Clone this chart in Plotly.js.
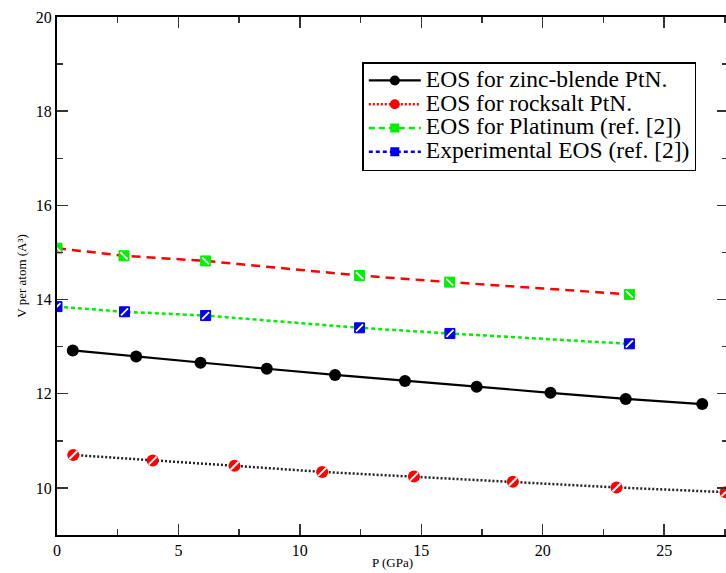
<!DOCTYPE html>
<html>
<head>
<meta charset="utf-8">
<script src="https://cdn.plot.ly/plotly-3.0.1.min.js"></script>
<style>
  html, body { margin: 0; padding: 0; background: #fff; overflow: hidden; }
  #chart { width: 728px; height: 573px; }
</style>
</head>
<body>
<div id="chart"></div>
<script>
// Equation-of-state data: pressure P (GPa) vs volume per atom (A^3)
const zbP = [0.65, 3.26, 5.91, 8.64, 11.45, 14.33, 17.28, 20.32, 23.42, 26.57];
const zbV = [12.92, 12.79, 12.66, 12.53, 12.40, 12.27, 12.15, 12.02, 11.89, 11.78];

const rsP = [0.67, 3.94, 7.31, 10.92, 14.70, 18.77, 23.04, 27.53];
const rsV = [10.70, 10.58, 10.47, 10.34, 10.24, 10.13, 10.01, 9.91];

const ptP = [0.0, 2.76, 6.12, 12.46, 16.17, 23.57];
const ptV = [15.09, 14.93, 14.82, 14.51, 14.37, 14.11];

const exP = [0.0, 2.78, 6.12, 12.46, 16.18, 23.57];
const exV = [13.85, 13.74, 13.66, 13.40, 13.28, 13.06];

const seriesNames = [
  'EOS for zinc-blende PtN.',
  'EOS for rocksalt PtN.',
  'EOS for Platinum (ref. [2])',
  'Experimental EOS (ref. [2])'
];

const serif = "'Liberation Serif', 'Times New Roman', Times, serif";

// legend labels are set a little larger than the row pitch of the legend box
const legendLabel = s => '<span style="font-size:23.5px">' + s + '</span>';

const traces = [
  // connecting curves
  { x: zbP, y: zbV, mode: 'lines', line: { color: 'black', width: 2.2 }, showlegend: false, hoverinfo: 'skip' },
  { x: rsP, y: rsV, mode: 'lines', line: { color: '#222', width: 2.5, dash: '2px,2px' }, showlegend: false, hoverinfo: 'skip' },
  { x: ptP, y: ptV, mode: 'lines', line: { color: '#ff0000', width: 2.5, dash: '9px,6px' }, showlegend: false, hoverinfo: 'skip' },
  { x: exP, y: exV, mode: 'lines', line: { color: '#00ee00', width: 2.5, dash: '4px,3px' }, showlegend: false, hoverinfo: 'skip' },

  // symbols
  { x: zbP, y: zbV, mode: 'markers', marker: { symbol: 'circle', size: 12, color: 'black' }, showlegend: false },
  { x: rsP, y: rsV, mode: 'markers', marker: { symbol: 'circle', size: 12, color: '#ff0000' }, showlegend: false },
  { x: rsP, y: rsV, mode: 'markers', marker: { symbol: 'line-ne', size: 8, line: { color: 'white', width: 2 } }, showlegend: false, hoverinfo: 'skip' },
  { x: ptP, y: ptV, mode: 'markers', marker: { symbol: 'square', size: 10, color: '#00ee00', line: { color: '#00ee00', width: 1 } }, showlegend: false },
  { x: ptP, y: ptV, mode: 'markers', marker: { symbol: 'line-nw', size: 7, line: { color: 'white', width: 1.8 } }, showlegend: false, hoverinfo: 'skip' },
  { x: exP, y: exV, mode: 'markers', marker: { symbol: 'square', size: 10, color: '#0000ee', line: { color: '#0000ee', width: 1 } }, showlegend: false },
  { x: exP, y: exV, mode: 'markers', marker: { symbol: 'line-ne', size: 7, line: { color: 'white', width: 1.8 } }, showlegend: false, hoverinfo: 'skip' },

  // legend entries
  { x: [null], y: [null], name: legendLabel(seriesNames[0]), mode: 'lines+markers',
    line: { color: 'black', width: 2.2 }, marker: { symbol: 'circle', size: 10, color: 'black' } },
  { x: [null], y: [null], name: legendLabel(seriesNames[1]), mode: 'lines+markers',
    line: { color: '#ff0000', width: 2.5, dash: '2px,2px' }, marker: { symbol: 'circle', size: 10, color: '#ff0000' } },
  { x: [null], y: [null], name: legendLabel(seriesNames[2]), mode: 'lines+markers',
    line: { color: '#00ee00', width: 2.5, dash: '6px,4px' }, marker: { symbol: 'square', size: 9, color: '#00ee00' } },
  { x: [null], y: [null], name: legendLabel(seriesNames[3]), mode: 'lines+markers',
    line: { color: '#0000ee', width: 2.5, dash: '4px,3px' }, marker: { symbol: 'square', size: 9, color: '#0000ee' } }
];

const layout = {
  width: 728,
  height: 573,
  margin: { l: 57, r: 0, t: 17, b: 38 },
  paper_bgcolor: 'white',
  plot_bgcolor: 'white',
  font: { family: serif, color: 'black' },
  showlegend: true,
  legend: {
    x: 0.455, y: 0.913, xanchor: 'left', yanchor: 'top',
    bgcolor: 'white', bordercolor: 'black', borderwidth: 1.5,
    font: { family: serif, size: 16, color: 'black' },
    tracegroupgap: 0, itemwidth: 52
  },
  xaxis: {
    range: [0, 27.63],
    dtick: 5, tick0: 0,
    ticks: 'inside', ticklen: 11, tickwidth: 1.5, tickcolor: '#333',
    minor: { dtick: 2.5, ticks: 'inside', ticklen: 6, tickwidth: 1.5, tickcolor: '#333' },
    showline: true, linecolor: 'black', linewidth: 2, mirror: 'ticks',
    showgrid: false, zeroline: false,
    tickfont: { family: serif, size: 16, color: 'black' },
    title: { text: 'P (GPa)', font: { family: serif, size: 13, color: 'black' }, standoff: 0 }
  },
  yaxis: {
    range: [9, 20],
    dtick: 2, tick0: 0,
    ticks: 'inside', ticklen: 11, tickwidth: 1.5, tickcolor: '#333',
    minor: { dtick: 1, ticks: 'inside', ticklen: 6, tickwidth: 1.5, tickcolor: '#333' },
    showline: true, linecolor: 'black', linewidth: 2, mirror: 'ticks',
    showgrid: false, zeroline: false,
    tickfont: { family: serif, size: 16, color: 'black' },
    title: { text: 'V per atom (A³)', font: { family: serif, size: 13, color: 'black' }, standoff: 6 }
  }
};

Plotly.newPlot('chart', traces, layout, { staticPlot: true, displayModeBar: false });
</script>
</body>
</html>
